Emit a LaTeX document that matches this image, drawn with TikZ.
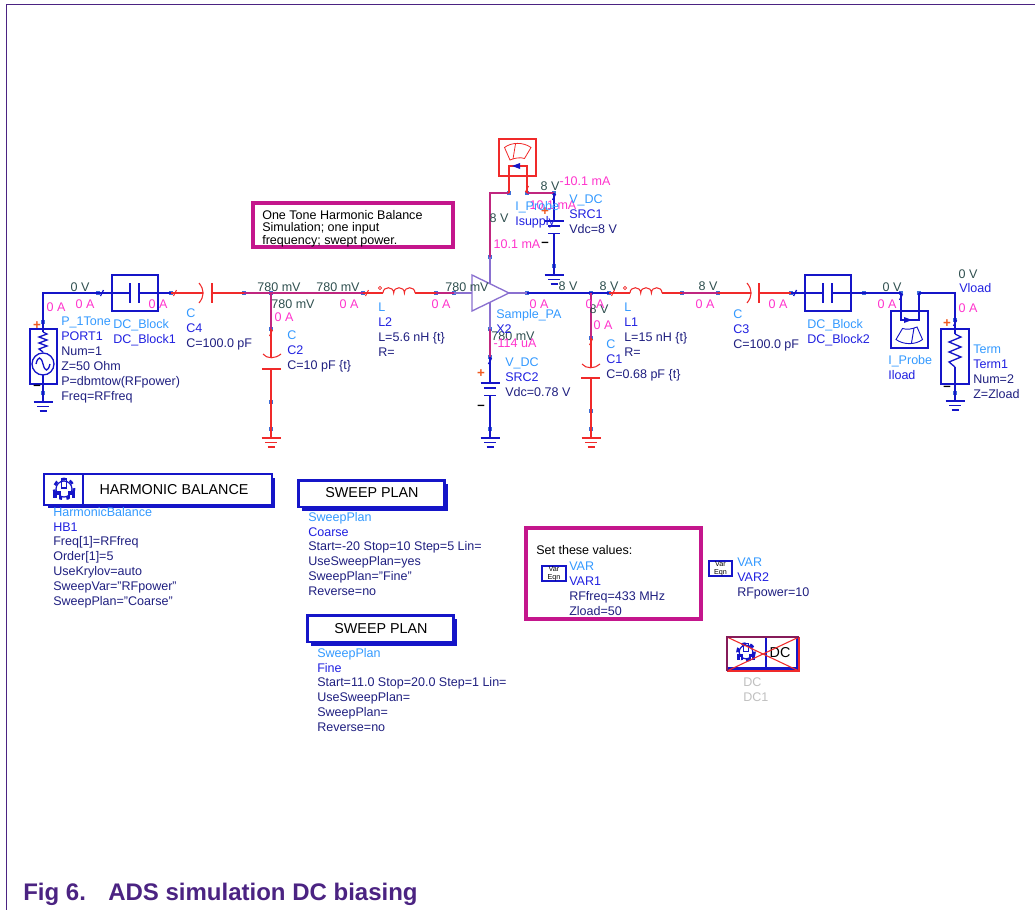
\documentclass[tikz,border=0pt]{standalone}
\usepackage{fontspec}
\setmainfont{Liberation Sans}

\definecolor{wireblue}{HTML}{1515C8}
\definecolor{wirered}{HTML}{F02A2A}
\definecolor{wirepink}{HTML}{C0267F}
\definecolor{wirepa}{HTML}{8A70D0}
\definecolor{pinblue}{HTML}{3D6FD8}
\definecolor{typeblue}{HTML}{3399FF}
\definecolor{idblue}{HTML}{2020E0}
\definecolor{parmnavy}{HTML}{1F1F80}
\definecolor{curpink}{HTML}{FF33CC}
\definecolor{voltgrey}{HTML}{2F4F4F}
\definecolor{notepink}{HTML}{C4168C}
\definecolor{pagepurple}{HTML}{4B2382}
\definecolor{plusorange}{HTML}{F05A20}

\newcommand{\tnm}[1]{\textcolor{typeblue}{#1}}
\newcommand{\tid}[1]{\textcolor{idblue}{#1}}

\tikzset{
  pin/.style={rectangle,fill=pinblue,inner sep=0pt,minimum size=3.2pt},
  bluewire/.style={color=wireblue,line width=1pt},
  redwire/.style={color=wirered,line width=.8pt},
  pinkwire/.style={color=wirepink,line width=1pt},
  pawire/.style={color=wirepa,line width=1pt},
  parm/.style={anchor=north west,inner sep=0pt,yshift=3.2pt,align=left,text=parmnavy,
    font=\fontsize{9.4}{11.2}\selectfont},
  cur/.style={inner sep=0pt,text=curpink,font=\fontsize{9.4}{11.2}\selectfont},
  volt/.style={inner sep=0pt,text=voltgrey,font=\fontsize{9.4}{11.2}\selectfont},
  sign/.style={inner sep=0pt,font=\bfseries\fontsize{10}{10}\selectfont},
  headtxt/.style={inner sep=0pt,text=black,font=\fontsize{10.75}{12}\selectfont},
  notetxt/.style={anchor=north west,inner sep=0pt,yshift=3.2pt,align=left,text=black,
    font=\fontsize{9.4}{9.4}\selectfont},
  gnd/.pic={
    \draw (-9.5,0) -- (9.5,0);
    \draw (-6,4.5) -- (6,4.5);
    \draw (-3.5,9) -- (3.5,9);
  },
  batt/.pic={
    \draw (-9.5,0) -- (9.5,0);
    \draw (-6,5) -- (6,5);
    \draw (-6,12.5) -- (6,12.5);
  },
  coil/.pic={
    \draw (0,0) .. controls (0,-7) and (10.7,-7) .. (10.7,0)
      .. controls (10.7,-7) and (21.4,-7) .. (21.4,0)
      .. controls (21.4,-7) and (32,-7) .. (32,0);
  },
  tick/.pic={
    \draw (-1.5,3) -- (1.5,-3);
  },
  meter/.pic={
    \draw (-13,-10) .. controls (-6,-15.5) and (6,-15.5) .. (13.5,-10) -- (7,1)
      .. controls (3,-.5) and (-3,.5) .. (-7.5,2.5) -- cycle;
    \draw (-2,-13.5) -- (-4.5,1.5);
  },
  gear/.pic={
    \draw[line width=.9pt] (0,0) circle (8);
    \draw[line width=2pt,dash pattern=on 3.2pt off 3.4pt] (0,0) circle (10);
    \draw[line width=.9pt] (-2.5,-10) rectangle (2.5,-1);
    \fill (-11,2) rectangle (-3.5,9);
    \fill (3.5,2) rectangle (11,9);
    \fill[white] (-7.5,5.5) rectangle (-5.5,9.5);
    \fill[white] (5.5,5.5) rectangle (7.5,9.5);
  }
}

\begin{document}
\begin{tikzpicture}[x=.75pt,y=-.75pt]
\useasboundingbox (0,0) rectangle (1035,910);

% Page frame and caption
\draw[pagepurple,line width=.75pt] (6,910) -- (6,4) -- (1035,4);
\node[inner sep=0pt,anchor=base west,text=pagepurple,font=\bfseries\fontsize{18}{20}\selectfont] (capNum) at (23,900) {Fig 6.};
\node[inner sep=0pt,anchor=base west,text=pagepurple,font=\bfseries\fontsize{18}{20}\selectfont] (capText) at (108,900) {ADS simulation DC biasing};

% Pins
\node[pin] (pPortTop) at (43,322) {};
\node[pin] (pPortBot) at (43,393) {};
\node[pin] (pBlkOneL) at (98,293) {};
\node[pin] (pBlkOneR) at (171,293) {};
\node[pin] (pCfourR) at (244,293) {};
\node[pin] (pNodeIn) at (271,293) {};
\node[pin] (pLtwoL) at (363,293) {};
\node[pin] (pLtwoR) at (436,293) {};
\node[pin] (pPaIn) at (454,293) {};
\node[pin] (pCtwoT) at (271,329) {};
\node[pin] (pCtwoB) at (271,402) {};
\node[pin] (pCtwoG) at (271,429) {};
\node[pin] (pPaTop) at (490,257) {};
\node[pin] (pProbeA) at (509,193) {};
\node[pin] (pProbeB) at (527,193) {};
\node[pin] (pSrcOneT) at (554,193) {};
\node[pin] (pSrcOneB) at (554,266) {};
\node[pin] (pPaBot) at (490,329) {};
\node[pin] (pSrcTwoT) at (490,357) {};
\node[pin] (pSrcTwoB) at (490,429) {};
\node[pin] (pPaOut) at (527,293) {};
\node[pin] (pNodeOut) at (591,293) {};
\node[pin] (pLoneL) at (609,293) {};
\node[pin] (pLoneR) at (682,293) {};
\node[pin] (pCthreeL) at (718,293) {};
\node[pin] (pCoOneT) at (591,338) {};
\node[pin] (pCoOneB) at (591,411) {};
\node[pin] (pCoOneG) at (591,429) {};
\node[pin] (pBlkTwoL) at (791,293) {};
\node[pin] (pBlkTwoR) at (864,293) {};
\node[pin] (pLoadA) at (901,293) {};
\node[pin] (pLoadB) at (919,293) {};
\node[pin] (pTermT) at (955,320) {};
\node[pin] (pTermB) at (955,393) {};

% Junction points
\coordinate (gndPort) at (43,402);
\coordinate (gndCtwo) at (271,438);
\coordinate (gndSrcOne) at (554,275);
\coordinate (gndSrcTwo) at (490,438);
\coordinate (gndCoOne) at (591,438);
\coordinate (gndTerm) at (955,401);
\coordinate (portZigT) at (43,332);
\coordinate (portRing) at (43,353);
\coordinate (blkOneA) at (130,293);
\coordinate (blkOneB) at (139,293);
\coordinate (cFourA) at (203,293);
\coordinate (cFourB) at (212,293);
\coordinate (lTwoA) at (383,293);
\coordinate (lTwoB) at (415,293);
\coordinate (cTwoA) at (271,358);
\coordinate (cTwoB) at (271,369);
\coordinate (paEdge) at (472,293);
\coordinate (paTip) at (509,293);
\coordinate (paTopEdge) at (490,284);
\coordinate (paBotEdge) at (490,302);
\coordinate (srcOneA) at (554,221);
\coordinate (srcOneB) at (554,233.5);
\coordinate (srcTwoA) at (490,383);
\coordinate (srcTwoB) at (490,395.5);
\coordinate (lOneA) at (630,293);
\coordinate (lOneB) at (662,293);
\coordinate (cOneA) at (591,368);
\coordinate (cOneB) at (591,378);
\coordinate (cThreeA) at (751,293);
\coordinate (cThreeB) at (759,293);
\coordinate (blkTwoA) at (823,293);
\coordinate (blkTwoB) at (832,293);
\coordinate (probeOneA) at (509,166);
\coordinate (probeOneB) at (527,166);
\coordinate (probeTwoA) at (901,320);
\coordinate (probeTwoB) at (919,320);
\coordinate (termZigT) at (955,334);
\coordinate (termZigB) at (955,367);

% Port
\draw[bluewire] (pPortTop.center) |- (pBlkOneL.center);
\draw[bluewire] (pPortTop.center) -- (portZigT);
\draw[bluewire] (30,329) rectangle (57,384);
\draw[bluewire] (43,332) -- (47,334) -- (39,337) -- (47,340) -- (39,343) -- (47,346) -- (39,349) -- (43,352);
\draw[bluewire] (43,364) circle (11);
\draw[bluewire] (36,364) .. controls (38,356) and (41,356) .. (43,364) .. controls (45,372) and (48,372) .. (50,364);
\draw[bluewire] (43,375) -- (pPortBot.center);
\draw[bluewire] (pPortBot.center) -- (gndPort);
\pic[bluewire] at (gndPort) {gnd};

% DC block 1
\draw[bluewire] (112,275) rectangle (158,311);
\draw[bluewire] (pBlkOneL.center) -- (blkOneA);
\draw[bluewire] (blkOneB) -- (pBlkOneR.center);
\draw[bluewire] (130,283) -- (130,303);
\draw[bluewire] (139,283) -- (139,303);

% C4
\draw[redwire] (pBlkOneR.center) -- (cFourA);
\draw[redwire] (cFourB) -- (pCfourR.center);
\draw[redwire] (199,283) .. controls (204.5,290) and (204.5,296) .. (199,303);
\draw[redwire] (212,283) -- (212,303);

% Wires to the amplifier
\draw[pinkwire] (pCfourR.center) -- (pNodeIn.center);
\draw[pinkwire] (pNodeIn.center) -- (pLtwoL.center);
\draw[pinkwire] (pNodeIn.center) -- (pCtwoT.center);
\draw[redwire] (pLtwoL.center) -- (lTwoA);
\draw[redwire] (lTwoB) -- (pLtwoR.center);
\pic[redwire] at (lTwoA) {coil};
\draw[redwire,line width=.6pt] (380,288) circle (1.6);
\draw[pinkwire] (pLtwoR.center) -- (pPaIn.center);

% C2
\draw[redwire] (pCtwoT.center) -- (cTwoA);
\draw[redwire] (263,354) .. controls (267,359) and (275,359) .. (281,354);
\draw[redwire] (262,369) -- (281,369);
\draw[redwire] (cTwoB) -- (pCtwoB.center);
\draw[redwire] (pCtwoB.center) -- (pCtwoG.center);
\draw[redwire] (pCtwoG.center) -- (gndCtwo);
\pic[redwire] at (gndCtwo) {gnd};

% Amplifier
\draw[pawire] (pPaIn.center) -- (paEdge);
\draw[pawire] (pPaTop.center) -- (paTopEdge);
\draw[pawire] (pPaBot.center) -- (paBotEdge);
\draw[pawire] (paTip) -- (pPaOut.center);
\draw[pawire] (472,275) -- (472,311) -- (509,293) -- cycle;

% Supply current probe
\draw[pinkwire] (pPaTop.center) |- (pProbeA.center);
\draw[pinkwire] (pProbeB.center) -- (pSrcOneT.center);
\draw[redwire] (499,139) rectangle (536,176);
\pic[redwire,line width=.6pt] at (517.5,157.5) {meter};
\draw[redwire] (pProbeA.center) -- (probeOneA) -- (probeOneB) -- (pProbeB.center);
\fill[wireblue] (512,166) -- (520,163) -- (520,169) -- cycle;

% SRC1
\draw[bluewire] (pSrcOneT.center) -- (srcOneA);
\pic[bluewire] at (srcOneA) {batt};
\draw[bluewire] (srcOneB) -- (pSrcOneB.center);
\draw[bluewire] (pSrcOneB.center) -- (gndSrcOne);
\pic[bluewire] at (gndSrcOne) {gnd};

% SRC2
\draw[pinkwire] (pPaBot.center) -- (pSrcTwoT.center);
\draw[bluewire] (pSrcTwoT.center) -- (srcTwoA);
\pic[bluewire] at (srcTwoA) {batt};
\draw[bluewire] (srcTwoB) -- (pSrcTwoB.center);
\draw[bluewire] (pSrcTwoB.center) -- (gndSrcTwo);
\pic[bluewire] at (gndSrcTwo) {gnd};

% Output match
\draw[bluewire] (pPaOut.center) -- (pNodeOut.center);
\draw[bluewire] (pNodeOut.center) -- (pLoneL.center);
\draw[pinkwire] (pNodeOut.center) -- (pCoOneT.center);
\draw[redwire] (pCoOneT.center) -- (cOneA);
\draw[redwire] (582,364) .. controls (586,369) and (595,369) .. (600,364);
\draw[redwire] (581,378) -- (600,378);
\draw[redwire] (cOneB) -- (pCoOneB.center);
\draw[redwire] (pCoOneB.center) -- (pCoOneG.center);
\draw[redwire] (pCoOneG.center) -- (gndCoOne);
\pic[redwire] at (gndCoOne) {gnd};
\draw[redwire] (pLoneL.center) -- (lOneA);
\pic[redwire] at (lOneA) {coil};
\draw[redwire,line width=.6pt] (625,288) circle (1.6);
\draw[redwire] (lOneB) -- (pLoneR.center);
\draw[pinkwire] (pLoneR.center) -- (pCthreeL.center);

% C3
\draw[redwire] (pCthreeL.center) -- (cThreeA);
\draw[redwire] (747,283) .. controls (752.5,290) and (752.5,296) .. (747,303);
\draw[redwire] (759,283) -- (759,303);
\draw[redwire] (cThreeB) -- (pBlkTwoL.center);

% DC block 2
\draw[bluewire] (805,275) rectangle (851,311);
\draw[bluewire] (pBlkTwoL.center) -- (blkTwoA);
\draw[bluewire] (blkTwoB) -- (pBlkTwoR.center);
\draw[bluewire] (823,283) -- (823,303);
\draw[bluewire] (832,283) -- (832,303);
\draw[bluewire] (pBlkTwoR.center) -- (pLoadA.center);

% Load probe and term
\draw[bluewire] (891,311) rectangle (928,348);
\pic[bluewire,line width=.7pt,rotate=180] at (909.5,329.5) {meter};
\draw[bluewire] (pLoadA.center) -- (probeTwoA) -- (probeTwoB) -- (pLoadB.center);
\fill[wireblue] (912,320) -- (904,317) -- (904,323) -- cycle;
\draw[bluewire] (pLoadB.center) -| (pTermT.center);
\draw[bluewire] (pTermT.center) -- (termZigT);
\draw[bluewire] (941,329) rectangle (969,384);
\draw[bluewire] (955,334) -- (961,337) -- (949,342) -- (961,347) -- (949,352) -- (961,357) -- (949,362) -- (955,367);
\draw[bluewire] (termZigB) -- (pTermB.center);
\draw[bluewire] (pTermB.center) -- (gndTerm);
\pic[bluewire] at (gndTerm) {gnd};

% Ticks
\pic[bluewire] at (102,293) {tick};
\pic[redwire] at (175,293) {tick};
\pic[redwire] at (271,333) {tick};
\pic[redwire] at (367,293) {tick};
\pic[redwire] at (613,293) {tick};
\pic[bluewire] at (795,293) {tick};
\pic[bluewire] at (490,361) {tick};
\pic[bluewire] at (554,197) {tick};
\pic[bluewire] at (901,297) {tick};
\pic[bluewire] at (955,323) {tick};
\pic[redwire] at (591,342) {tick};
\pic[redwire] at (527,189) {tick};

% Plus and minus
\node[sign,text=plusorange] (plusPort) at (37,326) {+};
\node[sign,text=black] (minusPort) at (37,387) {--};
\node[sign,text=plusorange] (plusSrcOne) at (545,212) {+};
\node[sign,text=black] (minusSrcOne) at (545,244) {--};
\node[sign,text=plusorange] (plusSrcTwo) at (481,374) {+};
\node[sign,text=black] (minusSrcTwo) at (481,407) {--};
\node[sign,text=plusorange] (plusTerm) at (947,324) {+};
\node[sign,text=black] (minusTerm) at (947,388) {--};

% Voltages
\node[volt] (vPort) at (80,287) {0 V};
\node[volt] (vInA) at (279,287) {780 mV};
\node[volt] (vInB) at (338,287) {780 mV};
\node[volt] (vInC) at (293,304) {780 mV};
\node[volt] (vInD) at (467,287) {780 mV};
\node[volt] (vBias) at (513,336) {780 mV};
\node[volt] (vSupA) at (550,186) {8 V};
\node[volt] (vSupB) at (499,218) {8 V};
\node[volt] (vOutA) at (568,286) {8 V};
\node[volt] (vOutB) at (609,286) {8 V};
\node[volt] (vOutC) at (599,309) {8 V};
\node[volt] (vOutD) at (708,286) {8 V};
\node[volt] (vLoadA) at (892,287) {0 V};
\node[volt] (vLoadB) at (968,274) {0 V};

% Currents
\node[cur] (iPortA) at (56,307) {0 A};
\node[cur] (iPortB) at (85,304) {0 A};
\node[cur] (iBlk) at (158,304) {0 A};
\node[cur] (iCtwo) at (284,317) {0 A};
\node[cur] (iLtwoA) at (349,304) {0 A};
\node[cur] (iLtwoB) at (441,304) {0 A};
\node[cur] (iPaOut) at (539,304) {0 A};
\node[cur] (iNode) at (595,304) {0 A};
\node[cur] (iCone) at (603,325) {0 A};
\node[cur] (iLone) at (705,304) {0 A};
\node[cur] (iCthree) at (778,304) {0 A};
\node[cur] (iProbe) at (887,304) {0 A};
\node[cur] (iTerm) at (968,308) {0 A};
\node[cur] (iBias) at (515,343) {-114 uA};
\node[cur] (iSupA) at (585,181) {-10.1 mA};
\node[cur] (iSupB) at (553,205) {10.1 mA};
\node[cur] (iSupC) at (517,244) {10.1 mA};

% Component labels
\node[parm] (lblPort) at (61,321) {\tnm{P\_1Tone}\\\tid{PORT1}\\Num=1\\Z=50 Ohm\\P=dbmtow(RFpower)\\Freq=RFfreq};
\node[parm] (lblBlkOne) at (113,323) {\tnm{DC\_Block}\\\tid{DC\_Block1}};
\node[parm] (lblCfour) at (186,313) {\tnm{C}\\\tid{C4}\\C=100.0 pF};
\node[parm] (lblCtwo) at (287,335) {\tnm{C}\\\tid{C2}\\C=10 pF \{t\}};
\node[parm] (lblLtwo) at (378,307) {\tnm{L}\\\tid{L2}\\L=5.6 nH \{t\}\\R=};
\node[parm] (lblPa) at (496,313) {\tnm{Sample\_PA}\\\tid{X2}};
\node[parm] (lblSrcTwo) at (505,362) {\tnm{V\_DC}\\\tid{SRC2}\\Vdc=0.78 V};
\node[parm] (lblSrcOne) at (569,199) {\tnm{V\_DC}\\\tid{SRC1}\\Vdc=8 V};
\node[parm] (lblProbeOne) at (515,205) {\tnm{I\_Probe}\\\tid{Isupply}};
\node[parm] (lblCone) at (606,344) {\tnm{C}\\\tid{C1}\\C=0.68 pF \{t\}};
\node[parm] (lblLone) at (624,307) {\tnm{L}\\\tid{L1}\\L=15 nH \{t\}\\R=};
\node[parm] (lblCthree) at (733,314) {\tnm{C}\\\tid{C3}\\C=100.0 pF};
\node[parm] (lblBlkTwo) at (807,323) {\tnm{DC\_Block}\\\tid{DC\_Block2}};
\node[parm] (lblProbeTwo) at (888,359) {\tnm{I\_Probe}\\\tid{Iload}};
\node[parm] (lblVload) at (959,287) {\tid{Vload}};
\node[parm] (lblTerm) at (973,349) {\tnm{Term}\\\tid{Term1}\\Num=2\\Z=Zload};

% Note
\draw[notepink,line width=2.6pt] (253,203) rectangle (453,247);
\node[notetxt] (noteTxt) at (262,214) {One Tone Harmonic Balance\\Simulation; one input\\frequency; swept power.};

% Harmonic balance
\fill[wireblue] (48,478) rectangle (275,508);
\draw[wireblue,line width=1pt,fill=white] (44,474) rectangle (272,505);
\draw[wireblue,line width=1pt] (83,474) -- (83,505);
\pic[wireblue] at (64,489) {gear};
\node[headtxt] (hbHead) at (174,490) {HARMONIC BALANCE};
\node[parm] (lblHb) at (53,511) {\tnm{HarmonicBalance}\\\tid{HB1}\\Freq[1]=RFfreq\\Order[1]=5\\UseKrylov=auto\\SweepVar="RFpower"\\SweepPlan="Coarse"};

% Sweep plans
\fill[wireblue] (302,484) rectangle (448,511);
\draw[wireblue,line width=1.6pt,fill=white] (298.5,480.5) rectangle (444.5,507);
\node[headtxt] (coarseHead) at (372,493) {SWEEP PLAN};
\node[parm] (lblCoarse) at (308,516) {\tnm{SweepPlan}\\\tid{Coarse}\\Start=-20 Stop=10 Step=5 Lin=\\UseSweepPlan=yes\\SweepPlan="Fine"\\Reverse=no};
\fill[wireblue] (311,619) rectangle (457,646);
\draw[wireblue,line width=1.6pt,fill=white] (307.5,615.5) rectangle (453.5,642);
\node[headtxt] (fineHead) at (381,629) {SWEEP PLAN};
\node[parm] (lblFine) at (317,652) {\tnm{SweepPlan}\\\tid{Fine}\\Start=11.0 Stop=20.0 Step=1 Lin=\\UseSweepPlan=\\SweepPlan=\\Reverse=no};

% Variables
\draw[notepink,line width=2.6pt] (526,528) rectangle (701,619);
\node[notetxt] (setTxt) at (536,549) {Set these values:};
\draw[wireblue,line width=1.1pt] (542,566) rectangle (566,581);
\node[inner sep=0pt,align=center,font=\fontsize{5.4}{6}\selectfont] (varOne) at (554,573.5) {Var\\Eqn};
\node[parm] (lblVarOne) at (569,566) {\tnm{VAR}\\\tid{VAR1}\\RFfreq=433 MHz\\Zload=50};
\draw[wireblue,line width=1.1pt] (709,561) rectangle (732,576);
\node[inner sep=0pt,align=center,font=\fontsize{5.4}{6}\selectfont] (varTwo) at (720.5,568.5) {Var\\Eqn};
\node[parm] (lblVarTwo) at (737,562) {\tnm{VAR}\\\tid{VAR2}\\RFpower=10};

% Deactivated DC
\fill[wireblue] (727,637) rectangle (799,671);
\fill[white] (728,638) rectangle (796,667);
\draw[wireblue,line width=1pt] (766,637) -- (766,668);
\pic[wireblue,scale=.85] at (746,652) {gear};
\node[headtxt] (dcHead) at (780,653) {DC};
\draw[wirered,line width=.8pt] (727,637) -- (799,671);
\draw[wirered,line width=.8pt] (727,671) -- (799,637);
\draw[wirered,line width=.8pt] (727,671) -- (799,671) -- (799,637);
\draw[wirepink!70!black,line width=.9pt] (727,671) -- (727,637) -- (799,637);
\node[parm,text=black!25] (lblDc) at (743,682) {DC\\DC1};

\end{tikzpicture}
\end{document}
